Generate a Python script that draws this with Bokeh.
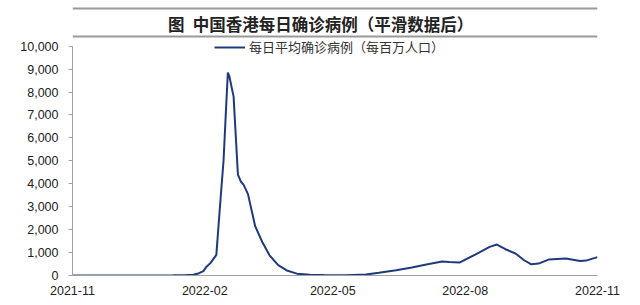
from datetime import datetime
import pandas as pd
from bokeh.plotting import figure
from bokeh.models import (Range1d, FixedTicker, NumeralTickFormatter, DatetimeTickFormatter,
                          Legend, LegendItem, ColumnDataSource, Span, Label)
from bokeh.embed import file_html
from bokeh.resources import INLINE

TITLE = "图\u2002中国香港每日确诊病例（平滑数据后）"
SERIES_NAME = "每日平均确诊病例（每百万人口）"

dates = [
    "2021-11-01", "2021-11-15", "2021-12-01", "2021-12-15", "2022-01-01", "2022-01-10",
    "2022-01-18", "2022-01-24", "2022-01-28", "2022-01-31", "2022-02-02", "2022-02-05",
    "2022-02-09", "2022-02-12", "2022-02-14", "2022-02-16", "2022-02-17", "2022-02-18",
    "2022-02-21", "2022-02-24", "2022-02-26", "2022-02-28", "2022-03-03", "2022-03-08",
    "2022-03-13", "2022-03-18", "2022-03-24", "2022-03-30", "2022-04-06", "2022-04-15",
    "2022-04-25", "2022-05-10", "2022-05-24", "2022-06-02", "2022-06-14", "2022-06-25",
    "2022-07-05", "2022-07-16", "2022-07-21", "2022-07-28", "2022-08-08", "2022-08-18",
    "2022-08-23", "2022-08-29", "2022-09-05", "2022-09-11", "2022-09-16", "2022-09-21",
    "2022-09-28", "2022-10-10", "2022-10-20", "2022-10-24", "2022-11-01",
]
cases = [
    2, 2, 2, 3, 3, 8,
    15, 35, 100, 190, 375, 550,
    900, 3400, 5000, 7600, 8850, 8700,
    7800, 4400, 4100, 3950, 3550, 2150,
    1450, 880, 450, 220, 80, 35,
    20, 15, 40, 115, 230, 350,
    480, 610, 590, 565, 915, 1250,
    1350, 1145, 960, 665, 490, 520,
    695, 740, 635, 650, 800,
]
x_ticks = ["2021-11-01", "2022-02-01", "2022-05-01", "2022-08-01", "2022-11-01"]
y_ticks = [0, 1000, 2000, 3000, 4000, 5000, 6000, 7000, 8000, 9000, 10000]

LINE = "#1F3A7C"
GRAY = "#A0A0A0"
RULE = "#9A9A9A"
FONT = "Liberation Sans"

# frame spans canvas y 0..275; 10,000 sits at canvas y≈46
FRAME_H = 275
Y_END = 10000 * FRAME_H / 229.3

src = ColumnDataSource(dict(date=pd.to_datetime(dates), cases=cases))

p = figure(width=640, height=305, output_backend="svg", toolbar_location=None,
           x_axis_type="datetime",
           x_range=Range1d(datetime(2021, 11, 1), datetime(2022, 11, 1)),
           y_range=Range1d(0, Y_END),
           min_border_left=72, min_border_right=43, min_border_top=0, min_border_bottom=30)
p.outline_line_color = None
p.grid.visible = False
p.background_fill_color = "white"
p.border_fill_color = "white"

r = p.line("date", "cases", source=src, line_color=LINE, line_width=2)

ya = p.yaxis[0]
ya.ticker = FixedTicker(ticks=y_ticks)
ya.formatter = NumeralTickFormatter(format="0,0")
ya.bounds = (0, 10000)
ya.axis_line_color = GRAY
ya.major_tick_line_color = GRAY
ya.major_tick_out = 4
ya.major_tick_in = 0
ya.minor_tick_line_color = None
ya.major_label_standoff = 10
ya.major_label_text_font = FONT
ya.major_label_text_font_size = "12.5px"
ya.major_label_text_color = "#222222"

xa = p.xaxis[0]
xa.ticker = FixedTicker(ticks=[pd.Timestamp(t).value / 1e6 for t in x_ticks])
fmt = "%Y-%m"
xa.formatter = DatetimeTickFormatter(years=fmt, months=fmt, days=fmt, hours=fmt,
                                     minutes=fmt, seconds=fmt, milliseconds=fmt,
                                     microseconds=fmt, hourmin=fmt, minsec=fmt)
xa.axis_line_color = GRAY
xa.major_tick_line_color = None
xa.minor_tick_line_color = None
xa.major_label_standoff = 4
xa.major_label_text_font = FONT
xa.major_label_text_font_size = "12.5px"
xa.major_label_text_color = "#222222"

leg = Legend(items=[LegendItem(label=SERIES_NAME, renderers=[r])],
             location=(142, 219), orientation="horizontal",
             glyph_width=31, glyph_height=14, label_height=14, label_standoff=4,
             padding=0, margin=0, border_line_color=None, background_fill_alpha=0,
             label_text_font="Noto Sans CJK SC", label_text_font_size="13px",
             label_text_color="#333333")
p.add_layout(leg)

# header rules and title (inside the frame, above the 10,000 tick)
for top_px in (8, 36):
    p.add_layout(Span(location=Y_END * (FRAME_H - top_px) / FRAME_H, dimension="width",
                      line_color=RULE, line_width=2))
p.add_layout(Label(x=248, y=FRAME_H - 23.5, x_units="screen", y_units="screen", text=TITLE,
                   text_align="center", text_baseline="middle",
                   text_font="Noto Sans CJK SC", text_font_style="bold",
                   text_font_size="16.5px", text_color="#222222"))

open("out.html", "w").write(file_html(p, INLINE))
